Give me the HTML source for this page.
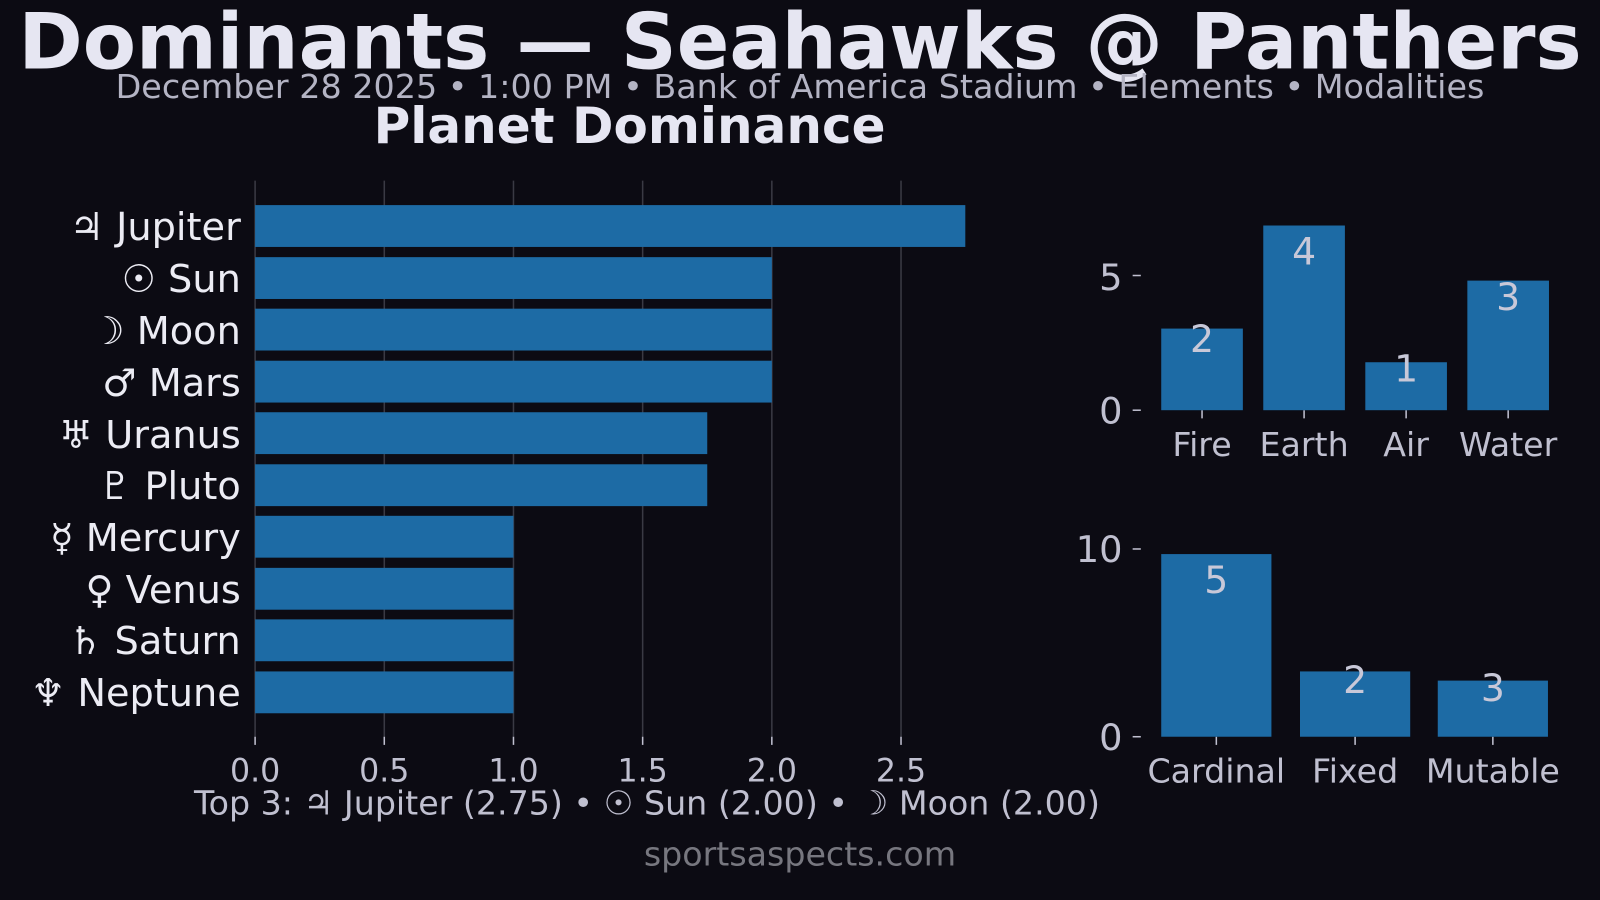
<!DOCTYPE html>
<html><head><meta charset="utf-8"><style>
html,body{margin:0;padding:0;background:#0c0b13;}
svg{display:block;font-family:"DejaVu Sans","Liberation Sans",sans-serif;}
</style></head><body>
<svg width="1600" height="900" viewBox="0 0 1568 882" xmlns="http://www.w3.org/2000/svg">
<rect width="1568" height="882" fill="#0c0b13"/>
<text x="784" y="67" text-anchor="middle" font-size="76" font-weight="bold" fill="#e6e6f2">Dominants — Seahawks @ Panthers</text>
<text x="784" y="96" text-anchor="middle" font-size="32.7" fill="#b4b4c4">December 28 2025 • 1:00 PM • Bank of America Stadium • Elements • Modalities</text>
<text x="617" y="140" text-anchor="middle" font-size="49" font-weight="bold" fill="#e6e6f2">Planet Dominance</text>
<g stroke="#3a3a44" stroke-width="1.5">
<line x1="376.6" y1="177" x2="376.6" y2="722"/><line x1="503.2" y1="177" x2="503.2" y2="722"/>
<line x1="629.8" y1="177" x2="629.8" y2="722"/><line x1="756.4" y1="177" x2="756.4" y2="722"/>
<line x1="883" y1="177" x2="883" y2="722"/><line x1="250" y1="177" x2="250" y2="722"/>
</g>
<g fill="#1d6ba5">
<rect x="250" y="201" width="696" height="41"/>
<rect x="250" y="252" width="506.4" height="41"/>
<rect x="250" y="302.5" width="506.4" height="41"/>
<rect x="250" y="353.5" width="506.4" height="41"/>
<rect x="250" y="404" width="443.1" height="41"/>
<rect x="250" y="455" width="443.1" height="41"/>
<rect x="250" y="505.5" width="253.2" height="41"/>
<rect x="250" y="556.5" width="253.2" height="41"/>
<rect x="250" y="607" width="253.2" height="41"/>
<rect x="250" y="658" width="253.2" height="41"/>
</g>
<g font-size="37.5" fill="#ececf4" text-anchor="end">
<text x="236" y="235">♃ Jupiter</text><text x="236" y="286">☉ Sun</text>
<text x="236" y="337">☽ Moon</text><text x="236" y="388">♂ Mars</text>
<text x="236" y="439">♅ Uranus</text><text x="236" y="489">♇ Pluto</text>
<text x="236" y="540">☿ Mercury</text><text x="236" y="591">♀ Venus</text>
<text x="236" y="641">♄ Saturn</text><text x="236" y="692">♆ Neptune</text>
</g>
<g stroke="#c0c0d0" stroke-width="1.5">
<line x1="250" y1="722" x2="250" y2="730"/><line x1="376.6" y1="722" x2="376.6" y2="730"/>
<line x1="503.2" y1="722" x2="503.2" y2="730"/><line x1="629.8" y1="722" x2="629.8" y2="730"/>
<line x1="756.4" y1="722" x2="756.4" y2="730"/><line x1="883" y1="722" x2="883" y2="730"/>
<line x1="1110" y1="270" x2="1118" y2="270"/><line x1="1110" y1="402" x2="1118" y2="402"/>
<line x1="1110" y1="538" x2="1118" y2="538"/><line x1="1110" y1="722" x2="1118" y2="722"/>
<line x1="1178" y1="402" x2="1178" y2="410"/><line x1="1278" y1="402" x2="1278" y2="410"/>
<line x1="1378" y1="402" x2="1378" y2="410"/><line x1="1478" y1="402" x2="1478" y2="410"/>
<line x1="1192" y1="722" x2="1192" y2="730"/><line x1="1328" y1="722" x2="1328" y2="730"/>
<line x1="1463" y1="722" x2="1463" y2="730"/>
</g>
<g font-size="31" fill="#c0c0d0" text-anchor="middle">
<text x="250" y="766">0.0</text><text x="376.6" y="766">0.5</text><text x="503.2" y="766">1.0</text>
<text x="629.8" y="766">1.5</text><text x="756.4" y="766">2.0</text><text x="883" y="766">2.5</text>
</g>
<g font-size="32.6" fill="#c0c0d0" text-anchor="middle">
<text x="634" y="798">Top 3: ♃ Jupiter (2.75) • ☉ Sun (2.00) •  ☽ Moon (2.00)</text>
<text x="1178" y="447">Fire</text><text x="1278" y="447">Earth</text><text x="1378" y="447">Air</text><text x="1478" y="447">Water</text>
<text x="1192" y="767">Cardinal</text><text x="1328" y="767">Fixed</text><text x="1463" y="767">Mutable</text>
</g>
<text x="784" y="848" text-anchor="middle" font-size="32.6" fill="#77777f">sportsaspects.com</text>
<g font-size="36" fill="#c0c0d0" text-anchor="end">
<text x="1100" y="284">5</text><text x="1100" y="415">0</text>
<text x="1100" y="551">10</text><text x="1100" y="735">0</text>
</g>
<g fill="#1d6ba5">
<rect x="1138" y="322" width="80" height="80"/><rect x="1238" y="221" width="80" height="181"/>
<rect x="1338" y="355" width="80" height="47"/><rect x="1438" y="275" width="80" height="127"/>
<rect x="1138" y="543" width="108" height="179"/><rect x="1274" y="658" width="108" height="64"/>
<rect x="1409" y="667" width="108" height="55"/>
</g>
<g font-size="37" fill="#c8c8d8" text-anchor="middle">
<text x="1178" y="345">2</text><text x="1278" y="259">4</text><text x="1378" y="374">1</text><text x="1478" y="304">3</text>
<text x="1192" y="581">5</text><text x="1328" y="679">2</text><text x="1463" y="687">3</text>
</g>
</svg>
</body></html>
